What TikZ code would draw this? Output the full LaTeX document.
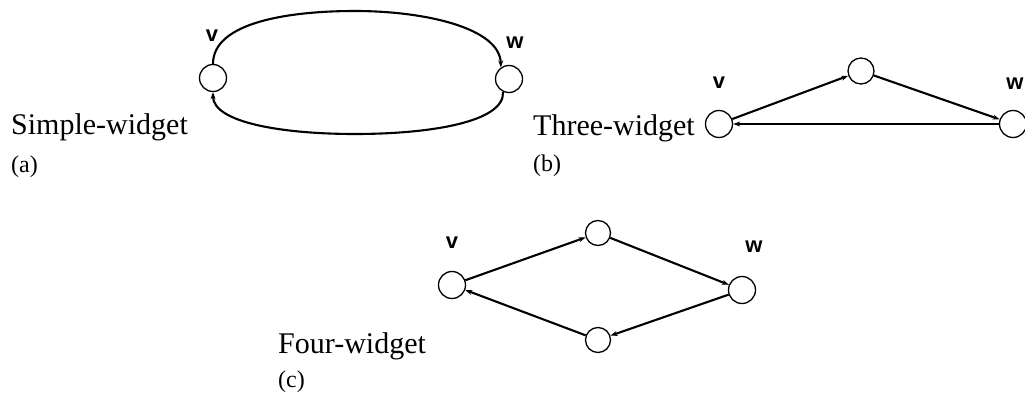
\documentclass[tikz,border=0pt]{standalone}
\usepackage{fontspec}
\setmainfont{Liberation Serif}
\newfontfamily\lblfont{Liberation Sans}
\usetikzlibrary{arrows.meta}
\tikzset{
  vtx/.style={circle,draw,line width=1.3pt,minimum size=27pt,inner sep=0pt},
  edge/.style={line width=2.1pt,-{Stealth[length=7pt,width=5pt]}},
  vlabel/.style={font=\lblfont\bfseries\fontsize{22}{24}\selectfont,inner sep=0pt},
  title/.style={font=\fontsize{30}{32}\selectfont,anchor=base west,inner sep=0pt},
  sub/.style={font=\fontsize{24}{26}\selectfont,anchor=base west,inner sep=0pt}
}
\begin{document}
\begin{tikzpicture}[x=1pt,y=-1pt]
\useasboundingbox[fill=white] (0,0) rectangle (1025,395);
% (a)
\node[vtx] (av) at (213,78) {};
\node[vtx] (aw) at (509,79) {};
\node[vlabel] (avl) at (212,36) {v};
\node[vlabel] (awl) at (515,43) {w};
\draw[edge] (av.north) .. controls (213,22) and (290,11) .. (355,11) .. controls (425,11) and (500,28) .. (aw.125);
\draw[edge] (aw.-115) .. controls (505,122) and (430,134) .. (355,134) .. controls (280,134) and (213,122) .. (av.south);
\node[title] (at) at (11,135) {Simple-widget};
\node[sub] (as) at (11,173) {(a)};
% (b)
\node[vtx] (bv) at (719,124) {};
\node[vtx,minimum size=26pt] (bt) at (861,71) {};
\node[vtx] (bw) at (1013,124) {};
\node[vlabel] (bvl) at (719,83) {v};
\node[vlabel] (bwl) at (1015,84) {w};
\draw[edge] (bv) -- (bt);
\draw[edge] (bt) -- (bw);
\draw[edge] (bw) -- (bv);
\node[title] (bti) at (533,136) {Three-widget};
\node[sub] (bs) at (533,172) {(b)};
% (c)
\node[vtx] (cv) at (452,285) {};
\node[vtx,minimum size=25pt] (ct) at (598,233) {};
\node[vtx,minimum size=25pt] (cb) at (598,340) {};
\node[vtx] (cw) at (742,290) {};
\node[vlabel] (cvl) at (452,243) {v};
\node[vlabel] (cwl) at (754,247) {w};
\draw[edge] (cv) -- (ct);
\draw[edge] (ct) -- (cw);
\draw[edge] (cw) -- (cb);
\draw[edge] (cb) -- (cv);
\node[title] (cti) at (278,353) {Four-widget};
\node[sub] (cs) at (278,387) {(c)};
\end{tikzpicture}
\end{document}
